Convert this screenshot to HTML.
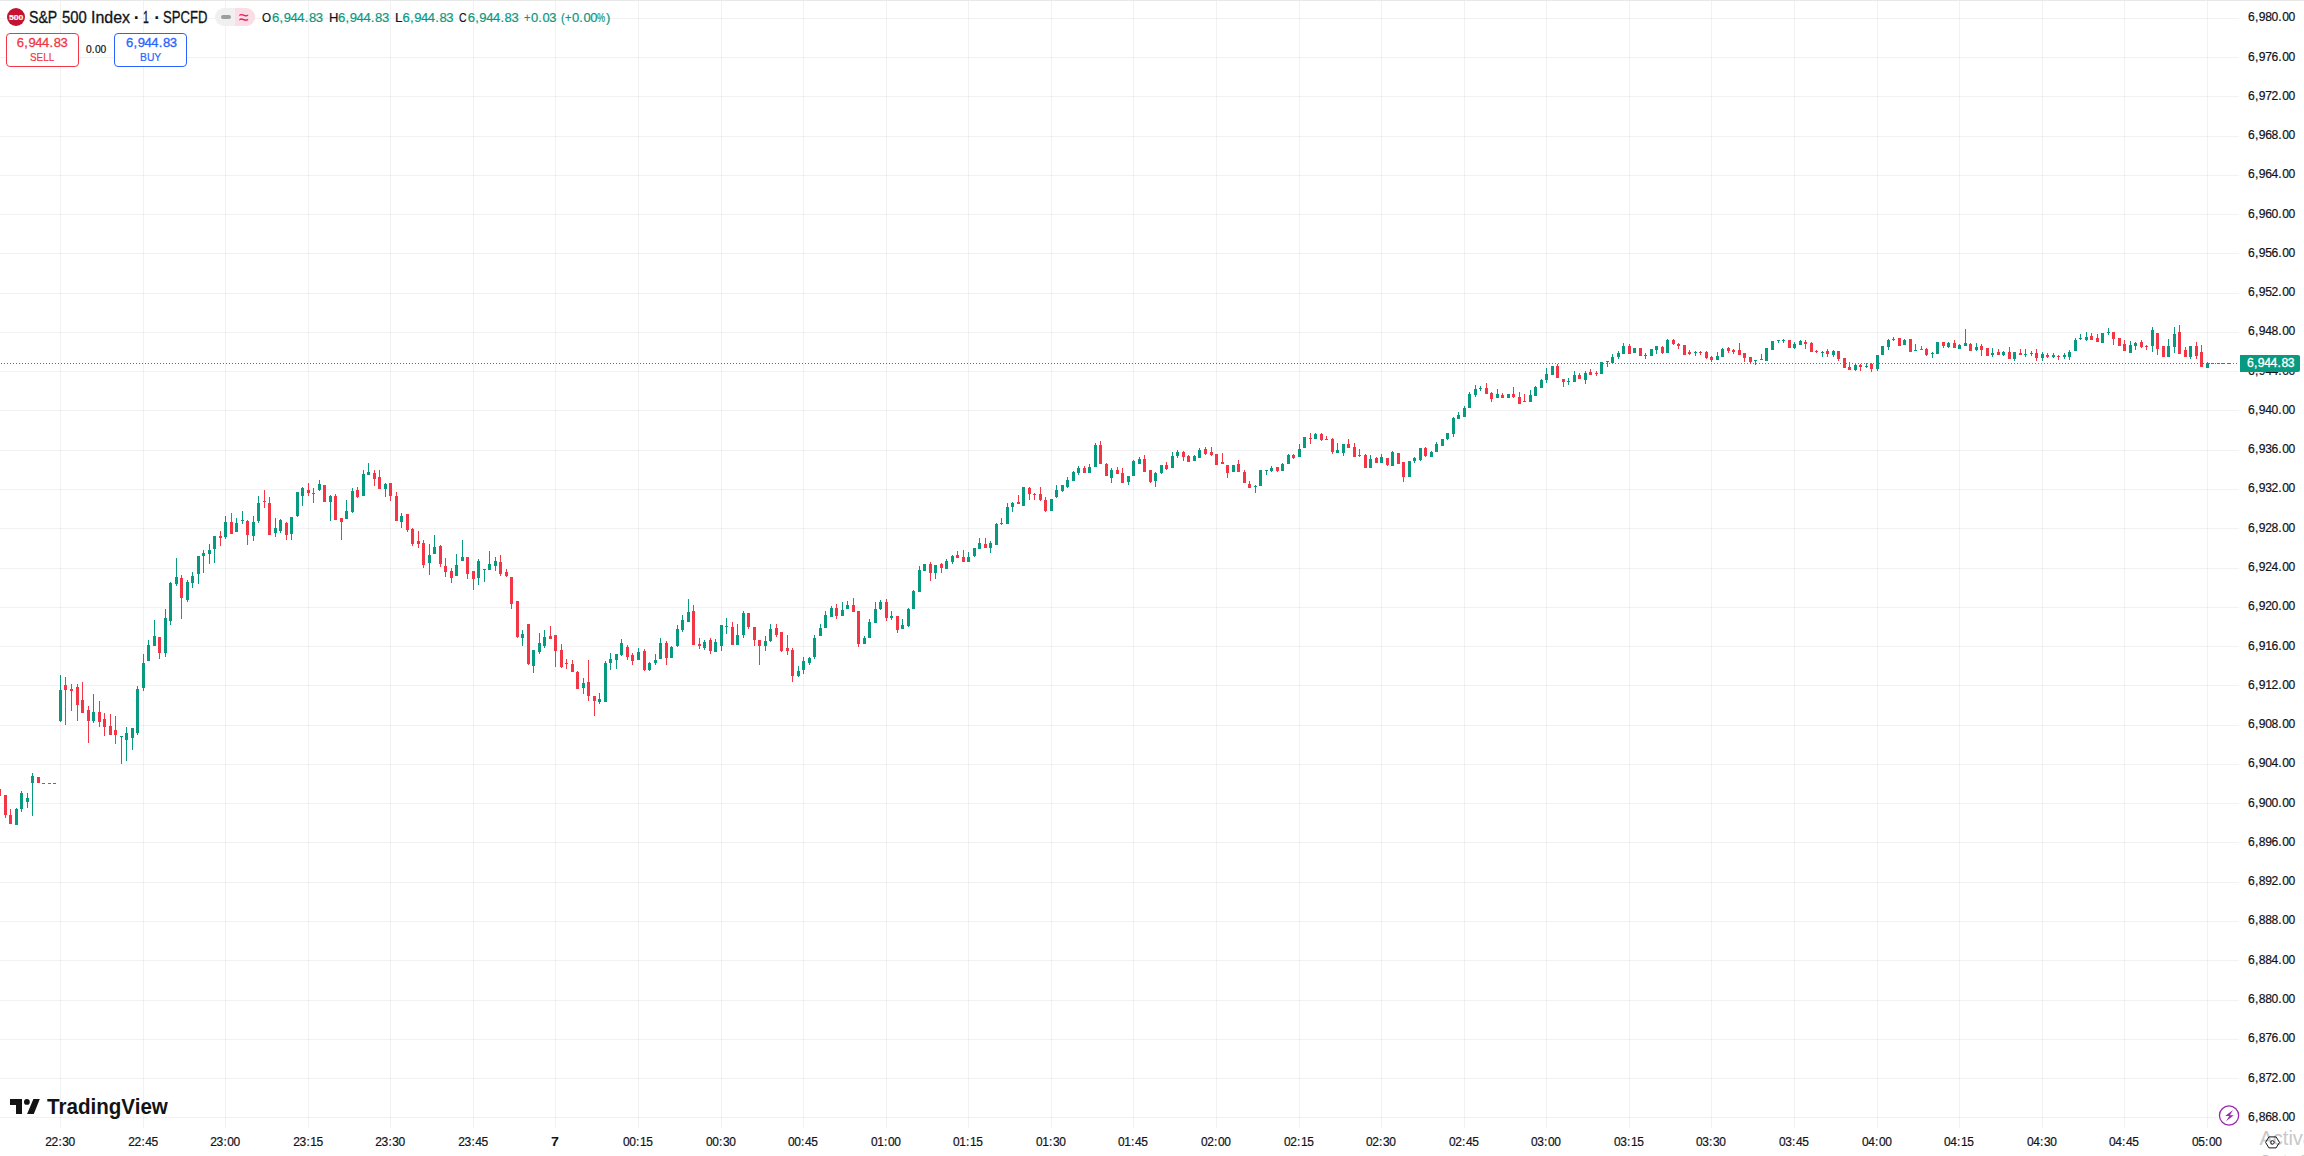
<!DOCTYPE html>
<html lang="en"><head><meta charset="utf-8"><title>S&amp;P 500 Index chart</title>
<style>
html,body{margin:0;padding:0;background:#fff;width:2304px;height:1156px;overflow:hidden}
#page{position:relative;width:2304px;height:1156px;overflow:hidden;background:#fff;font-family:"Liberation Sans",Arial,sans-serif;color:#10131a}
#chart{position:absolute;left:0;top:0}
.t{position:absolute;white-space:nowrap;transform-origin:0 0;display:block}
.n{letter-spacing:-0.0316em}
.n i{font-style:normal;letter-spacing:0;margin:0 0.0445em}
.n b{font-weight:inherit;letter-spacing:0}
.topb{position:absolute;left:0;top:0;width:2304px;height:1px;background:#e8e8e8}
.last{position:absolute;left:2240px;top:355px;width:60px;height:17px;background:#089981;border-radius:0 2px 2px 0}
.ico500{position:absolute;left:7px;top:8px;width:18px;height:18px;border-radius:50%;background:#c4122f}
.pill{position:absolute;left:215px;top:8px;width:40px;height:18px;border-radius:9px;overflow:hidden;background:#f0f0f0}
.pill .r{position:absolute;left:20px;top:0;width:20px;height:18px;background:#fbdde6}
.pill .d{position:absolute;left:6px;top:7px;width:10px;height:4px;border-radius:2px;background:#9e9e9e}
.box{position:absolute;top:33px;width:71px;height:32px;border:1px solid;border-radius:4px;background:#fff}
.sell{left:6px;border-color:#f23645}
.buy{left:114px;border-color:#2962ff}
.cover{position:absolute;left:2218px;top:1104px;width:21px;height:23px;background:#fff}
</style></head><body><div id="page">
<svg id="chart" width="2304" height="1156" viewBox="0 0 2304 1156" shape-rendering="crispEdges">
<path fill="rgba(0,0,0,0.05)" d="M0 18h2239v1H0zM0 57h2239v1H0zM0 96h2239v1H0zM0 136h2239v1H0zM0 175h2239v1H0zM0 214h2239v1H0zM0 253h2239v1H0zM0 293h2239v1H0zM0 332h2239v1H0zM0 371h2239v1H0zM0 410h2239v1H0zM0 450h2239v1H0zM0 489h2239v1H0zM0 528h2239v1H0zM0 568h2239v1H0zM0 607h2239v1H0zM0 646h2239v1H0zM0 685h2239v1H0zM0 725h2239v1H0zM0 764h2239v1H0zM0 803h2239v1H0zM0 842h2239v1H0zM0 882h2239v1H0zM0 921h2239v1H0zM0 960h2239v1H0zM0 1000h2239v1H0zM0 1039h2239v1H0zM0 1078h2239v1H0zM0 1117h2239v1H0z"/>
<path fill="rgba(0,0,0,0.05)" d="M60 1h1v1127h-1zM143 1h1v1127h-1zM225 1h1v1127h-1zM308 1h1v1127h-1zM390 1h1v1127h-1zM473 1h1v1127h-1zM555 1h1v1127h-1zM638 1h1v1127h-1zM721 1h1v1127h-1zM803 1h1v1127h-1zM886 1h1v1127h-1zM968 1h1v1127h-1zM1051 1h1v1127h-1zM1133 1h1v1127h-1zM1216 1h1v1127h-1zM1299 1h1v1127h-1zM1381 1h1v1127h-1zM1464 1h1v1127h-1zM1546 1h1v1127h-1zM1629 1h1v1127h-1zM1711 1h1v1127h-1zM1794 1h1v1127h-1zM1877 1h1v1127h-1zM1959 1h1v1127h-1zM2042 1h1v1127h-1zM2124 1h1v1127h-1zM2207 1h1v1127h-1z"/>
<path fill="#089981" d="M16 808h1v1h-1zM15 809h3v16h-3zM21 791h1v2h-1zM21 809h1v3h-1zM20 793h3v16h-3zM27 793h1v5h-1zM27 802h1v6h-1zM26 798h3v4h-3zM32 773h1v3h-1zM32 783h1v33h-1zM31 776h3v7h-3zM42 783h3v1h-3zM53 783h3v1h-3zM60 675h1v15h-1zM60 721h1v1h-1zM59 690h3v31h-3zM93 694h1v18h-1zM93 721h1v2h-1zM92 712h3v9h-3zM121 737h1v27h-1zM120 736h3v1h-3zM126 727h1v6h-1zM126 740h1v21h-1zM125 733h3v7h-3zM132 738h1v12h-1zM131 728h3v10h-3zM137 686h1v3h-1zM137 733h1v2h-1zM136 689h3v44h-3zM143 654h1v9h-1zM143 688h1v3h-1zM142 663h3v25h-3zM148 640h1v5h-1zM147 645h3v16h-3zM154 620h1v16h-1zM153 636h3v10h-3zM165 609h1v9h-1zM165 653h1v4h-1zM164 618h3v35h-3zM170 582h1v1h-1zM170 621h1v4h-1zM169 583h3v38h-3zM176 558h1v19h-1zM176 584h1v2h-1zM175 577h3v7h-3zM187 580h1v2h-1zM187 600h1v2h-1zM186 582h3v18h-3zM192 572h1v4h-1zM192 583h1v5h-1zM191 576h3v7h-3zM198 574h1v10h-1zM197 556h3v18h-3zM203 550h1v3h-1zM203 556h1v17h-1zM202 553h3v3h-3zM209 544h1v6h-1zM209 554h1v10h-1zM208 550h3v4h-3zM214 549h1v14h-1zM213 536h3v13h-3zM225 516h1v6h-1zM225 537h1v2h-1zM224 522h3v15h-3zM236 518h1v5h-1zM235 523h3v9h-3zM242 511h1v9h-1zM242 521h1v3h-1zM241 520h3v1h-3zM253 516h1v6h-1zM253 536h1v5h-1zM252 522h3v14h-3zM258 496h1v7h-1zM258 521h1v2h-1zM257 503h3v18h-3zM275 518h1v10h-1zM275 533h1v4h-1zM274 528h3v5h-3zM280 519h1v1h-1zM280 531h1v2h-1zM279 520h3v11h-3zM291 534h1v6h-1zM290 517h3v17h-3zM297 516h1v1h-1zM296 492h3v24h-3zM302 487h1v1h-1zM302 496h1v10h-1zM301 488h3v8h-3zM319 480h1v4h-1zM319 490h1v1h-1zM318 484h3v6h-3zM330 495h1v1h-1zM330 502h1v19h-1zM329 496h3v6h-3zM346 500h1v11h-1zM345 511h3v8h-3zM352 488h1v3h-1zM352 512h1v1h-1zM351 491h3v21h-3zM363 470h1v4h-1zM362 474h3v22h-3zM368 463h1v9h-1zM367 472h3v3h-3zM385 483h1v1h-1zM385 489h1v8h-1zM384 484h3v5h-3zM401 513h1v3h-1zM401 522h1v6h-1zM400 516h3v6h-3zM429 544h1v11h-1zM429 563h1v12h-1zM428 555h3v8h-3zM434 535h1v12h-1zM433 547h3v7h-3zM456 554h1v11h-1zM455 565h3v11h-3zM462 540h1v17h-1zM461 557h3v4h-3zM478 559h1v2h-1zM478 578h1v7h-1zM477 561h3v17h-3zM484 570h1v12h-1zM483 569h3v1h-3zM489 551h1v13h-1zM488 564h3v6h-3zM495 557h1v4h-1zM495 566h1v5h-1zM494 561h3v5h-3zM522 630h1v4h-1zM522 638h1v8h-1zM521 634h3v4h-3zM533 666h1v7h-1zM532 650h3v16h-3zM539 633h1v10h-1zM539 652h1v2h-1zM538 643h3v9h-3zM544 630h1v7h-1zM544 646h1v2h-1zM543 637h3v9h-3zM583 678h1v5h-1zM583 688h1v6h-1zM582 683h3v5h-3zM599 693h1v6h-1zM599 702h1v2h-1zM598 699h3v3h-3zM605 661h1v2h-1zM604 663h3v39h-3zM610 653h1v6h-1zM610 663h1v7h-1zM609 659h3v4h-3zM616 660h1v9h-1zM615 654h3v6h-3zM621 639h1v4h-1zM621 655h1v1h-1zM620 643h3v12h-3zM638 648h1v4h-1zM637 652h3v8h-3zM649 662h1v1h-1zM649 670h1v1h-1zM648 663h3v7h-3zM655 654h1v6h-1zM655 663h1v2h-1zM654 660h3v3h-3zM660 638h1v5h-1zM659 643h3v16h-3zM671 646h1v1h-1zM670 647h3v11h-3zM677 625h1v4h-1zM677 646h1v1h-1zM676 629h3v17h-3zM682 615h1v5h-1zM682 630h1v2h-1zM681 620h3v10h-3zM688 599h1v13h-1zM687 612h3v10h-3zM704 640h1v2h-1zM704 648h1v2h-1zM703 642h3v6h-3zM715 639h1v3h-1zM714 642h3v10h-3zM721 646h1v5h-1zM720 625h3v21h-3zM726 618h1v8h-1zM726 627h1v7h-1zM725 626h3v1h-3zM737 624h1v11h-1zM736 635h3v10h-3zM743 611h1v2h-1zM743 635h1v3h-1zM742 613h3v22h-3zM765 636h1v5h-1zM765 646h1v5h-1zM764 641h3v5h-3zM770 624h1v5h-1zM770 641h1v1h-1zM769 629h3v12h-3zM798 666h1v5h-1zM798 676h1v1h-1zM797 671h3v5h-3zM803 657h1v4h-1zM803 670h1v4h-1zM802 661h3v9h-3zM809 657h1v1h-1zM809 663h1v2h-1zM808 658h3v5h-3zM814 635h1v3h-1zM814 657h1v2h-1zM813 638h3v19h-3zM820 624h1v4h-1zM819 628h3v8h-3zM825 611h1v4h-1zM824 615h3v13h-3zM831 606h1v2h-1zM830 608h3v9h-3zM842 602h1v8h-1zM841 610h3v6h-3zM847 601h1v4h-1zM846 605h3v4h-3zM864 636h1v2h-1zM863 638h3v6h-3zM869 619h1v3h-1zM868 622h3v16h-3zM875 602h1v7h-1zM874 609h3v14h-3zM880 600h1v2h-1zM880 609h1v1h-1zM879 602h3v7h-3zM891 611h1v5h-1zM891 618h1v2h-1zM890 616h3v2h-3zM902 619h1v6h-1zM901 625h3v4h-3zM908 608h1v1h-1zM908 626h1v1h-1zM907 609h3v17h-3zM913 590h1v1h-1zM912 591h3v18h-3zM919 566h1v4h-1zM918 570h3v22h-3zM923 564h3v7h-3zM935 573h1v6h-1zM934 565h3v8h-3zM946 559h1v2h-1zM945 561h3v8h-3zM952 555h1v1h-1zM952 562h1v2h-1zM951 556h3v6h-3zM968 552h1v5h-1zM967 557h3v5h-3zM974 556h1v1h-1zM973 548h3v8h-3zM979 538h1v5h-1zM978 543h3v6h-3zM990 541h1v2h-1zM990 548h1v5h-1zM989 543h3v5h-3zM996 523h1v1h-1zM995 524h3v21h-3zM1001 518h1v5h-1zM1001 524h1v1h-1zM1000 523h3v1h-3zM1007 503h1v4h-1zM1006 507h3v17h-3zM1012 502h1v1h-1zM1012 507h1v5h-1zM1011 503h3v4h-3zM1022 487h3v19h-3zM1050 499h3v12h-3zM1056 485h1v5h-1zM1056 497h1v1h-1zM1055 490h3v7h-3zM1062 491h1v1h-1zM1061 485h3v6h-3zM1067 477h1v3h-1zM1067 487h1v1h-1zM1066 480h3v7h-3zM1073 471h1v1h-1zM1072 472h3v9h-3zM1078 466h1v2h-1zM1078 473h1v2h-1zM1077 468h3v5h-3zM1089 464h1v3h-1zM1088 467h3v6h-3zM1095 443h1v2h-1zM1094 445h3v22h-3zM1111 468h1v2h-1zM1111 478h1v5h-1zM1110 470h3v8h-3zM1128 482h1v3h-1zM1127 476h3v6h-3zM1133 460h1v1h-1zM1132 461h3v15h-3zM1139 457h1v2h-1zM1138 459h3v5h-3zM1155 472h1v1h-1zM1155 481h1v6h-1zM1154 473h3v8h-3zM1161 473h1v1h-1zM1160 465h3v8h-3zM1172 452h1v4h-1zM1171 456h3v12h-3zM1177 450h1v2h-1zM1177 456h1v2h-1zM1176 452h3v4h-3zM1194 455h1v1h-1zM1193 456h3v5h-3zM1199 448h1v2h-1zM1198 450h3v8h-3zM1232 465h3v7h-3zM1255 485h1v1h-1zM1255 487h1v6h-1zM1254 486h3v1h-3zM1259 470h3v16h-3zM1266 471h1v4h-1zM1265 470h3v1h-3zM1271 466h1v2h-1zM1271 471h1v1h-1zM1270 468h3v3h-3zM1282 463h1v1h-1zM1281 464h3v7h-3zM1288 454h1v1h-1zM1287 455h3v9h-3zM1299 444h1v5h-1zM1298 449h3v8h-3zM1303 437h3v11h-3zM1315 433h1v1h-1zM1314 434h3v5h-3zM1337 443h1v7h-1zM1336 450h3v3h-3zM1343 453h1v3h-1zM1342 444h3v9h-3zM1370 455h1v4h-1zM1369 459h3v9h-3zM1381 454h1v3h-1zM1380 457h3v6h-3zM1392 451h1v1h-1zM1391 452h3v14h-3zM1408 461h3v16h-3zM1414 457h1v1h-1zM1414 461h1v2h-1zM1413 458h3v3h-3zM1420 460h1v1h-1zM1419 448h3v12h-3zM1431 451h1v1h-1zM1430 452h3v5h-3zM1436 442h1v2h-1zM1435 444h3v8h-3zM1441 439h3v7h-3zM1447 439h1v1h-1zM1446 433h3v6h-3zM1453 417h1v1h-1zM1453 434h1v3h-1zM1452 418h3v16h-3zM1458 412h1v3h-1zM1457 415h3v4h-3zM1464 406h1v2h-1zM1463 408h3v9h-3zM1469 392h1v2h-1zM1468 394h3v14h-3zM1475 385h1v4h-1zM1475 395h1v2h-1zM1474 389h3v6h-3zM1480 386h1v2h-1zM1480 389h1v2h-1zM1479 388h3v1h-3zM1497 389h1v5h-1zM1496 394h3v4h-3zM1507 394h3v4h-3zM1530 390h1v5h-1zM1529 395h3v7h-3zM1535 386h1v1h-1zM1534 387h3v9h-3zM1541 379h1v1h-1zM1540 380h3v8h-3zM1546 368h1v6h-1zM1546 380h1v3h-1zM1545 374h3v6h-3zM1551 366h3v9h-3zM1568 378h1v3h-1zM1568 382h1v3h-1zM1567 381h3v1h-3zM1574 371h1v4h-1zM1573 375h3v7h-3zM1585 371h1v2h-1zM1585 380h1v4h-1zM1584 373h3v7h-3zM1600 362h3v12h-3zM1607 362h1v5h-1zM1606 361h3v1h-3zM1612 354h1v3h-1zM1612 363h1v1h-1zM1611 357h3v6h-3zM1618 351h1v2h-1zM1618 357h1v2h-1zM1617 353h3v4h-3zM1623 343h1v3h-1zM1622 346h3v8h-3zM1633 348h3v5h-3zM1645 353h1v2h-1zM1645 356h1v3h-1zM1644 355h3v1h-3zM1650 349h3v7h-3zM1656 350h1v4h-1zM1655 346h3v4h-3zM1667 339h1v1h-1zM1666 340h3v13h-3zM1695 351h1v1h-1zM1695 353h1v3h-1zM1694 352h3v1h-3zM1717 352h1v4h-1zM1716 356h3v4h-3zM1722 348h1v1h-1zM1721 349h3v8h-3zM1755 361h1v4h-1zM1754 360h3v1h-3zM1761 354h1v5h-1zM1760 359h3v1h-3zM1765 348h3v13h-3zM1771 341h3v9h-3zM1778 341h1v2h-1zM1777 340h3v1h-3zM1783 339h1v1h-1zM1783 341h1v2h-1zM1782 340h3v1h-3zM1794 342h1v2h-1zM1794 348h1v1h-1zM1793 344h3v4h-3zM1800 340h1v1h-1zM1799 341h3v4h-3zM1822 351h1v1h-1zM1822 353h1v4h-1zM1821 352h3v1h-3zM1833 350h1v1h-1zM1833 355h1v2h-1zM1832 351h3v4h-3zM1855 363h1v2h-1zM1855 370h1v1h-1zM1854 365h3v5h-3zM1866 363h1v3h-1zM1866 367h1v1h-1zM1865 366h3v1h-3zM1877 369h1v2h-1zM1876 355h3v14h-3zM1881 346h3v9h-3zM1888 339h1v1h-1zM1888 347h1v3h-1zM1887 340h3v7h-3zM1893 337h1v2h-1zM1893 340h1v1h-1zM1892 339h3v1h-3zM1904 339h1v1h-1zM1903 340h3v5h-3zM1915 344h1v6h-1zM1914 350h3v1h-3zM1932 352h1v1h-1zM1932 354h1v4h-1zM1931 353h3v1h-3zM1936 342h3v12h-3zM1948 342h1v1h-1zM1948 347h1v1h-1zM1947 343h3v4h-3zM1959 344h1v1h-1zM1958 345h3v4h-3zM1965 329h1v14h-1zM1964 343h3v3h-3zM1976 343h1v4h-1zM1976 350h1v1h-1zM1975 347h3v3h-3zM1992 348h1v5h-1zM1992 355h1v2h-1zM1991 353h3v2h-3zM2003 351h1v1h-1zM2003 355h1v1h-1zM2002 352h3v3h-3zM2014 359h1v2h-1zM2013 352h3v7h-3zM2025 349h1v5h-1zM2025 355h1v2h-1zM2024 354h3v1h-3zM2031 351h1v2h-1zM2031 354h1v2h-1zM2030 353h3v1h-3zM2042 352h1v2h-1zM2042 358h1v3h-1zM2041 354h3v4h-3zM2053 353h1v2h-1zM2053 357h1v1h-1zM2052 355h3v2h-3zM2064 353h1v2h-1zM2064 357h1v2h-1zM2063 355h3v2h-3zM2069 350h1v2h-1zM2069 357h1v3h-1zM2068 352h3v5h-3zM2075 338h1v2h-1zM2074 340h3v11h-3zM2080 334h1v4h-1zM2080 339h1v1h-1zM2079 338h3v1h-3zM2086 332h1v5h-1zM2086 340h1v1h-1zM2085 337h3v3h-3zM2101 333h3v10h-3zM2108 328h1v4h-1zM2108 333h1v2h-1zM2107 332h3v1h-3zM2130 341h1v4h-1zM2129 345h3v8h-3zM2135 342h1v1h-1zM2135 346h1v4h-1zM2134 343h3v3h-3zM2152 327h1v3h-1zM2152 346h1v6h-1zM2151 330h3v16h-3zM2168 339h1v7h-1zM2167 346h3v11h-3zM2174 327h1v7h-1zM2174 347h1v6h-1zM2173 334h3v13h-3zM2190 357h1v2h-1zM2189 346h3v11h-3zM2207 362h1v1h-1zM2206 363h3v5h-3z"/>
<path fill="#f23645" d="M0 789h1v7h-1zM5 815h1v3h-1zM4 795h3v20h-3zM10 809h1v6h-1zM9 815h3v9h-3zM37 777h3v6h-3zM48 783h3v1h-3zM65 677h1v8h-1zM65 690h1v35h-1zM64 685h3v5h-3zM71 684h1v5h-1zM71 691h1v20h-1zM70 689h3v2h-3zM77 684h1v3h-1zM77 705h1v16h-1zM76 687h3v18h-3zM82 682h1v18h-1zM81 700h3v13h-3zM88 706h1v4h-1zM88 721h1v22h-1zM87 710h3v11h-3zM99 701h1v11h-1zM99 722h1v5h-1zM98 712h3v10h-3zM104 713h1v6h-1zM104 727h1v9h-1zM103 719h3v8h-3zM110 714h1v12h-1zM109 726h3v9h-3zM115 716h1v14h-1zM115 735h1v9h-1zM114 730h3v5h-3zM159 653h1v6h-1zM158 637h3v16h-3zM181 575h1v3h-1zM181 598h1v21h-1zM180 578h3v20h-3zM220 531h1v5h-1zM220 538h1v8h-1zM219 536h3v2h-3zM231 513h1v9h-1zM230 522h3v12h-3zM247 520h1v1h-1zM247 535h1v10h-1zM246 521h3v14h-3zM264 490h1v11h-1zM264 502h1v6h-1zM263 501h3v1h-3zM269 497h1v6h-1zM268 503h3v32h-3zM286 522h1v1h-1zM286 535h1v5h-1zM285 523h3v12h-3zM308 483h1v7h-1zM308 493h1v3h-1zM307 490h3v3h-3zM313 488h1v5h-1zM313 494h1v9h-1zM312 493h3v1h-3zM323 485h3v17h-3zM335 494h1v2h-1zM334 496h3v24h-3zM341 522h1v18h-1zM340 518h3v4h-3zM357 487h1v3h-1zM357 497h1v1h-1zM356 490h3v7h-3zM374 470h1v3h-1zM374 479h1v7h-1zM373 473h3v6h-3zM379 470h1v7h-1zM378 477h3v12h-3zM390 496h1v5h-1zM389 483h3v13h-3zM396 492h1v4h-1zM395 496h3v25h-3zM407 530h1v2h-1zM406 514h3v16h-3zM412 528h1v1h-1zM412 544h1v2h-1zM411 529h3v15h-3zM418 531h1v10h-1zM418 544h1v4h-1zM417 541h3v3h-3zM423 540h1v3h-1zM423 565h1v3h-1zM422 543h3v22h-3zM440 545h1v1h-1zM440 564h1v3h-1zM439 546h3v18h-3zM445 558h1v8h-1zM445 572h1v5h-1zM444 566h3v6h-3zM451 568h1v3h-1zM451 578h1v5h-1zM450 571h3v7h-3zM467 574h1v5h-1zM466 557h3v17h-3zM473 579h1v11h-1zM472 571h3v8h-3zM500 555h1v7h-1zM500 574h1v2h-1zM499 562h3v12h-3zM506 569h1v3h-1zM506 576h1v1h-1zM505 572h3v4h-3zM511 604h1v5h-1zM510 577h3v27h-3zM517 637h1v1h-1zM516 601h3v36h-3zM528 664h1v1h-1zM527 624h3v40h-3zM550 626h1v10h-1zM549 636h3v3h-3zM555 651h1v16h-1zM554 635h3v16h-3zM561 644h1v6h-1zM561 667h1v1h-1zM560 650h3v17h-3zM566 659h1v4h-1zM566 664h1v5h-1zM565 663h3v1h-3zM572 660h1v4h-1zM571 664h3v8h-3zM577 671h1v1h-1zM576 672h3v17h-3zM588 660h1v22h-1zM588 696h1v5h-1zM587 682h3v14h-3zM594 701h1v15h-1zM593 696h3v5h-3zM627 645h1v2h-1zM627 657h1v3h-1zM626 647h3v10h-3zM632 653h1v2h-1zM632 661h1v4h-1zM631 655h3v6h-3zM644 649h1v2h-1zM644 670h1v1h-1zM643 651h3v19h-3zM666 641h1v2h-1zM666 658h1v7h-1zM665 643h3v15h-3zM693 605h1v6h-1zM692 611h3v34h-3zM699 638h1v6h-1zM699 646h1v3h-1zM698 644h3v2h-3zM710 638h1v2h-1zM710 651h1v3h-1zM709 640h3v11h-3zM732 622h1v5h-1zM731 627h3v18h-3zM748 627h1v2h-1zM747 613h3v14h-3zM754 640h1v6h-1zM753 627h3v13h-3zM759 646h1v19h-1zM758 640h3v6h-3zM776 624h1v4h-1zM776 635h1v2h-1zM775 628h3v7h-3zM781 651h1v1h-1zM780 632h3v19h-3zM787 635h1v13h-1zM787 651h1v4h-1zM786 648h3v3h-3zM792 648h1v2h-1zM792 676h1v6h-1zM791 650h3v26h-3zM836 604h1v4h-1zM836 616h1v3h-1zM835 608h3v8h-3zM853 598h1v7h-1zM852 605h3v7h-3zM858 644h1v3h-1zM857 611h3v33h-3zM886 599h1v3h-1zM886 618h1v3h-1zM885 602h3v16h-3zM897 630h1v3h-1zM896 616h3v14h-3zM930 562h1v2h-1zM930 573h1v8h-1zM929 564h3v9h-3zM941 563h1v1h-1zM941 568h1v5h-1zM940 564h3v4h-3zM957 551h1v4h-1zM956 555h3v3h-3zM963 550h1v7h-1zM962 557h3v5h-3zM985 538h1v6h-1zM984 544h3v4h-3zM1018 495h1v7h-1zM1017 502h3v2h-3zM1029 487h1v1h-1zM1029 494h1v6h-1zM1028 488h3v6h-3zM1034 493h1v1h-1zM1034 495h1v5h-1zM1033 494h3v1h-3zM1040 487h1v7h-1zM1040 500h1v1h-1zM1039 494h3v6h-3zM1045 497h1v3h-1zM1045 511h1v1h-1zM1044 500h3v11h-3zM1084 466h1v2h-1zM1083 468h3v5h-3zM1100 441h1v4h-1zM1099 445h3v19h-3zM1106 463h1v1h-1zM1105 464h3v12h-3zM1117 467h1v3h-1zM1116 470h3v4h-3zM1122 468h1v5h-1zM1121 473h3v10h-3zM1144 455h1v4h-1zM1143 459h3v13h-3zM1150 482h1v1h-1zM1149 470h3v12h-3zM1166 462h1v3h-1zM1166 469h1v1h-1zM1165 465h3v4h-3zM1183 451h1v1h-1zM1183 457h1v4h-1zM1182 452h3v5h-3zM1188 455h1v1h-1zM1187 456h3v6h-3zM1205 447h1v2h-1zM1205 454h1v1h-1zM1204 449h3v5h-3zM1211 447h1v5h-1zM1211 455h1v1h-1zM1210 452h3v3h-3zM1215 454h3v11h-3zM1222 453h1v9h-1zM1221 462h3v2h-3zM1227 473h1v5h-1zM1226 465h3v8h-3zM1238 460h1v4h-1zM1237 464h3v8h-3zM1244 470h1v2h-1zM1243 472h3v11h-3zM1249 481h1v3h-1zM1248 484h3v4h-3zM1277 471h1v1h-1zM1276 467h3v4h-3zM1293 454h1v1h-1zM1293 458h1v1h-1zM1292 455h3v3h-3zM1310 433h1v5h-1zM1310 439h1v5h-1zM1309 438h3v1h-3zM1321 433h1v1h-1zM1321 440h1v1h-1zM1320 434h3v6h-3zM1326 436h1v3h-1zM1325 439h3v1h-3zM1332 438h1v1h-1zM1332 452h1v2h-1zM1331 439h3v13h-3zM1348 439h1v5h-1zM1347 444h3v4h-3zM1354 443h1v4h-1zM1353 447h3v10h-3zM1359 449h1v6h-1zM1359 456h1v1h-1zM1358 455h3v1h-3zM1365 454h1v1h-1zM1364 455h3v13h-3zM1376 457h1v1h-1zM1375 458h3v5h-3zM1387 465h1v1h-1zM1386 458h3v7h-3zM1397 453h3v11h-3zM1403 477h1v5h-1zM1402 462h3v15h-3zM1425 447h1v1h-1zM1425 456h1v1h-1zM1424 448h3v8h-3zM1486 383h1v5h-1zM1485 388h3v6h-3zM1491 392h1v1h-1zM1491 399h1v3h-1zM1490 393h3v6h-3zM1502 393h1v2h-1zM1501 395h3v3h-3zM1513 387h1v7h-1zM1513 397h1v1h-1zM1512 394h3v3h-3zM1519 392h1v5h-1zM1518 397h3v7h-3zM1524 394h1v7h-1zM1523 401h3v1h-3zM1557 364h1v2h-1zM1556 366h3v12h-3zM1563 382h1v5h-1zM1562 379h3v3h-3zM1579 373h1v2h-1zM1578 375h3v4h-3zM1590 369h1v3h-1zM1589 372h3v3h-3zM1596 371h1v2h-1zM1596 374h1v2h-1zM1595 373h3v1h-3zM1629 344h1v2h-1zM1628 346h3v8h-3zM1639 348h3v8h-3zM1662 346h1v1h-1zM1662 353h1v1h-1zM1661 347h3v6h-3zM1673 339h1v1h-1zM1673 344h1v1h-1zM1672 340h3v4h-3zM1678 343h1v1h-1zM1678 346h1v3h-1zM1677 344h3v2h-3zM1683 345h3v10h-3zM1689 350h1v2h-1zM1689 354h1v1h-1zM1688 352h3v2h-3zM1700 351h1v1h-1zM1700 353h1v2h-1zM1699 352h3v1h-3zM1706 351h1v1h-1zM1706 358h1v1h-1zM1705 352h3v6h-3zM1711 356h1v1h-1zM1711 360h1v2h-1zM1710 357h3v3h-3zM1728 347h1v1h-1zM1728 351h1v2h-1zM1727 348h3v3h-3zM1733 349h1v1h-1zM1733 352h1v2h-1zM1732 350h3v2h-3zM1739 343h1v7h-1zM1738 350h3v5h-3zM1744 358h1v4h-1zM1743 353h3v5h-3zM1750 362h1v1h-1zM1749 357h3v5h-3zM1788 340h3v8h-3zM1805 340h1v2h-1zM1805 344h1v5h-1zM1804 342h3v2h-3zM1811 342h1v1h-1zM1810 343h3v9h-3zM1816 350h1v1h-1zM1816 352h1v1h-1zM1815 351h3v1h-3zM1827 349h1v2h-1zM1827 354h1v3h-1zM1826 351h3v3h-3zM1838 359h1v2h-1zM1837 351h3v8h-3zM1843 358h3v10h-3zM1849 362h1v5h-1zM1848 367h3v3h-3zM1860 364h1v1h-1zM1860 367h1v4h-1zM1859 365h3v2h-3zM1871 363h1v1h-1zM1871 369h1v3h-1zM1870 364h3v5h-3zM1898 338h3v8h-3zM1909 339h3v13h-3zM1921 346h1v3h-1zM1920 349h3v1h-3zM1926 348h1v1h-1zM1926 355h1v1h-1zM1925 349h3v6h-3zM1943 346h1v2h-1zM1942 342h3v4h-3zM1954 340h1v3h-1zM1953 343h3v5h-3zM1970 343h1v1h-1zM1969 344h3v7h-3zM1981 344h1v2h-1zM1981 350h1v6h-1zM1980 346h3v4h-3zM1986 348h3v8h-3zM1998 349h1v3h-1zM1997 352h3v3h-3zM2009 347h1v5h-1zM2008 352h3v7h-3zM2020 349h1v4h-1zM2019 353h3v2h-3zM2036 349h1v4h-1zM2036 358h1v3h-1zM2035 353h3v5h-3zM2047 353h1v2h-1zM2047 357h1v1h-1zM2046 355h3v2h-3zM2058 355h1v1h-1zM2058 357h1v3h-1zM2057 356h3v1h-3zM2091 333h1v3h-1zM2090 336h3v4h-3zM2097 334h1v4h-1zM2096 338h3v4h-3zM2113 339h1v6h-1zM2112 332h3v7h-3zM2118 338h3v8h-3zM2124 340h1v4h-1zM2123 344h3v7h-3zM2141 340h1v2h-1zM2141 347h1v1h-1zM2140 342h3v5h-3zM2146 345h1v1h-1zM2146 347h1v3h-1zM2145 346h3v1h-3zM2157 349h1v6h-1zM2156 333h3v16h-3zM2162 346h3v11h-3zM2179 325h1v7h-1zM2178 332h3v22h-3zM2185 347h1v3h-1zM2184 350h3v7h-3zM2196 342h1v4h-1zM2196 356h1v3h-1zM2195 346h3v10h-3zM2201 345h1v7h-1zM2200 352h3v15h-3z"/>
<path fill="#089981" d="M1 363h1v1h-1zM4 363h1v1h-1zM7 363h1v1h-1zM10 363h1v1h-1zM13 363h1v1h-1zM16 363h1v1h-1zM19 363h1v1h-1zM22 363h1v1h-1zM25 363h1v1h-1zM28 363h1v1h-1zM31 363h1v1h-1zM34 363h1v1h-1zM37 363h1v1h-1zM40 363h1v1h-1zM43 363h1v1h-1zM46 363h1v1h-1zM49 363h1v1h-1zM52 363h1v1h-1zM55 363h1v1h-1zM58 363h1v1h-1zM61 363h1v1h-1zM64 363h1v1h-1zM67 363h1v1h-1zM70 363h1v1h-1zM73 363h1v1h-1zM76 363h1v1h-1zM79 363h1v1h-1zM82 363h1v1h-1zM85 363h1v1h-1zM88 363h1v1h-1zM91 363h1v1h-1zM94 363h1v1h-1zM97 363h1v1h-1zM100 363h1v1h-1zM103 363h1v1h-1zM106 363h1v1h-1zM109 363h1v1h-1zM112 363h1v1h-1zM115 363h1v1h-1zM118 363h1v1h-1zM121 363h1v1h-1zM124 363h1v1h-1zM127 363h1v1h-1zM130 363h1v1h-1zM133 363h1v1h-1zM136 363h1v1h-1zM139 363h1v1h-1zM142 363h1v1h-1zM145 363h1v1h-1zM148 363h1v1h-1zM151 363h1v1h-1zM154 363h1v1h-1zM157 363h1v1h-1zM160 363h1v1h-1zM163 363h1v1h-1zM166 363h1v1h-1zM169 363h1v1h-1zM172 363h1v1h-1zM175 363h1v1h-1zM178 363h1v1h-1zM181 363h1v1h-1zM184 363h1v1h-1zM187 363h1v1h-1zM190 363h1v1h-1zM193 363h1v1h-1zM196 363h1v1h-1zM199 363h1v1h-1zM202 363h1v1h-1zM205 363h1v1h-1zM208 363h1v1h-1zM211 363h1v1h-1zM214 363h1v1h-1zM217 363h1v1h-1zM220 363h1v1h-1zM223 363h1v1h-1zM226 363h1v1h-1zM229 363h1v1h-1zM232 363h1v1h-1zM235 363h1v1h-1zM238 363h1v1h-1zM241 363h1v1h-1zM244 363h1v1h-1zM247 363h1v1h-1zM250 363h1v1h-1zM253 363h1v1h-1zM256 363h1v1h-1zM259 363h1v1h-1zM262 363h1v1h-1zM265 363h1v1h-1zM268 363h1v1h-1zM271 363h1v1h-1zM274 363h1v1h-1zM277 363h1v1h-1zM280 363h1v1h-1zM283 363h1v1h-1zM286 363h1v1h-1zM289 363h1v1h-1zM292 363h1v1h-1zM295 363h1v1h-1zM298 363h1v1h-1zM301 363h1v1h-1zM304 363h1v1h-1zM307 363h1v1h-1zM310 363h1v1h-1zM313 363h1v1h-1zM316 363h1v1h-1zM319 363h1v1h-1zM322 363h1v1h-1zM325 363h1v1h-1zM328 363h1v1h-1zM331 363h1v1h-1zM334 363h1v1h-1zM337 363h1v1h-1zM340 363h1v1h-1zM343 363h1v1h-1zM346 363h1v1h-1zM349 363h1v1h-1zM352 363h1v1h-1zM355 363h1v1h-1zM358 363h1v1h-1zM361 363h1v1h-1zM364 363h1v1h-1zM367 363h1v1h-1zM370 363h1v1h-1zM373 363h1v1h-1zM376 363h1v1h-1zM379 363h1v1h-1zM382 363h1v1h-1zM385 363h1v1h-1zM388 363h1v1h-1zM391 363h1v1h-1zM394 363h1v1h-1zM397 363h1v1h-1zM400 363h1v1h-1zM403 363h1v1h-1zM406 363h1v1h-1zM409 363h1v1h-1zM412 363h1v1h-1zM415 363h1v1h-1zM418 363h1v1h-1zM421 363h1v1h-1zM424 363h1v1h-1zM427 363h1v1h-1zM430 363h1v1h-1zM433 363h1v1h-1zM436 363h1v1h-1zM439 363h1v1h-1zM442 363h1v1h-1zM445 363h1v1h-1zM448 363h1v1h-1zM451 363h1v1h-1zM454 363h1v1h-1zM457 363h1v1h-1zM460 363h1v1h-1zM463 363h1v1h-1zM466 363h1v1h-1zM469 363h1v1h-1zM472 363h1v1h-1zM475 363h1v1h-1zM478 363h1v1h-1zM481 363h1v1h-1zM484 363h1v1h-1zM487 363h1v1h-1zM490 363h1v1h-1zM493 363h1v1h-1zM496 363h1v1h-1zM499 363h1v1h-1zM502 363h1v1h-1zM505 363h1v1h-1zM508 363h1v1h-1zM511 363h1v1h-1zM514 363h1v1h-1zM517 363h1v1h-1zM520 363h1v1h-1zM523 363h1v1h-1zM526 363h1v1h-1zM529 363h1v1h-1zM532 363h1v1h-1zM535 363h1v1h-1zM538 363h1v1h-1zM541 363h1v1h-1zM544 363h1v1h-1zM547 363h1v1h-1zM550 363h1v1h-1zM553 363h1v1h-1zM556 363h1v1h-1zM559 363h1v1h-1zM562 363h1v1h-1zM565 363h1v1h-1zM568 363h1v1h-1zM571 363h1v1h-1zM574 363h1v1h-1zM577 363h1v1h-1zM580 363h1v1h-1zM583 363h1v1h-1zM586 363h1v1h-1zM589 363h1v1h-1zM592 363h1v1h-1zM595 363h1v1h-1zM598 363h1v1h-1zM601 363h1v1h-1zM604 363h1v1h-1zM607 363h1v1h-1zM610 363h1v1h-1zM613 363h1v1h-1zM616 363h1v1h-1zM619 363h1v1h-1zM622 363h1v1h-1zM625 363h1v1h-1zM628 363h1v1h-1zM631 363h1v1h-1zM634 363h1v1h-1zM637 363h1v1h-1zM640 363h1v1h-1zM643 363h1v1h-1zM646 363h1v1h-1zM649 363h1v1h-1zM652 363h1v1h-1zM655 363h1v1h-1zM658 363h1v1h-1zM661 363h1v1h-1zM664 363h1v1h-1zM667 363h1v1h-1zM670 363h1v1h-1zM673 363h1v1h-1zM676 363h1v1h-1zM679 363h1v1h-1zM682 363h1v1h-1zM685 363h1v1h-1zM688 363h1v1h-1zM691 363h1v1h-1zM694 363h1v1h-1zM697 363h1v1h-1zM700 363h1v1h-1zM703 363h1v1h-1zM706 363h1v1h-1zM709 363h1v1h-1zM712 363h1v1h-1zM715 363h1v1h-1zM718 363h1v1h-1zM721 363h1v1h-1zM724 363h1v1h-1zM727 363h1v1h-1zM730 363h1v1h-1zM733 363h1v1h-1zM736 363h1v1h-1zM739 363h1v1h-1zM742 363h1v1h-1zM745 363h1v1h-1zM748 363h1v1h-1zM751 363h1v1h-1zM754 363h1v1h-1zM757 363h1v1h-1zM760 363h1v1h-1zM763 363h1v1h-1zM766 363h1v1h-1zM769 363h1v1h-1zM772 363h1v1h-1zM775 363h1v1h-1zM778 363h1v1h-1zM781 363h1v1h-1zM784 363h1v1h-1zM787 363h1v1h-1zM790 363h1v1h-1zM793 363h1v1h-1zM796 363h1v1h-1zM799 363h1v1h-1zM802 363h1v1h-1zM805 363h1v1h-1zM808 363h1v1h-1zM811 363h1v1h-1zM814 363h1v1h-1zM817 363h1v1h-1zM820 363h1v1h-1zM823 363h1v1h-1zM826 363h1v1h-1zM829 363h1v1h-1zM832 363h1v1h-1zM835 363h1v1h-1zM838 363h1v1h-1zM841 363h1v1h-1zM844 363h1v1h-1zM847 363h1v1h-1zM850 363h1v1h-1zM853 363h1v1h-1zM856 363h1v1h-1zM859 363h1v1h-1zM862 363h1v1h-1zM865 363h1v1h-1zM868 363h1v1h-1zM871 363h1v1h-1zM874 363h1v1h-1zM877 363h1v1h-1zM880 363h1v1h-1zM883 363h1v1h-1zM886 363h1v1h-1zM889 363h1v1h-1zM892 363h1v1h-1zM895 363h1v1h-1zM898 363h1v1h-1zM901 363h1v1h-1zM904 363h1v1h-1zM907 363h1v1h-1zM910 363h1v1h-1zM913 363h1v1h-1zM916 363h1v1h-1zM919 363h1v1h-1zM922 363h1v1h-1zM925 363h1v1h-1zM928 363h1v1h-1zM931 363h1v1h-1zM934 363h1v1h-1zM937 363h1v1h-1zM940 363h1v1h-1zM943 363h1v1h-1zM946 363h1v1h-1zM949 363h1v1h-1zM952 363h1v1h-1zM955 363h1v1h-1zM958 363h1v1h-1zM961 363h1v1h-1zM964 363h1v1h-1zM967 363h1v1h-1zM970 363h1v1h-1zM973 363h1v1h-1zM976 363h1v1h-1zM979 363h1v1h-1zM982 363h1v1h-1zM985 363h1v1h-1zM988 363h1v1h-1zM991 363h1v1h-1zM994 363h1v1h-1zM997 363h1v1h-1zM1000 363h1v1h-1zM1003 363h1v1h-1zM1006 363h1v1h-1zM1009 363h1v1h-1zM1012 363h1v1h-1zM1015 363h1v1h-1zM1018 363h1v1h-1zM1021 363h1v1h-1zM1024 363h1v1h-1zM1027 363h1v1h-1zM1030 363h1v1h-1zM1033 363h1v1h-1zM1036 363h1v1h-1zM1039 363h1v1h-1zM1042 363h1v1h-1zM1045 363h1v1h-1zM1048 363h1v1h-1zM1051 363h1v1h-1zM1054 363h1v1h-1zM1057 363h1v1h-1zM1060 363h1v1h-1zM1063 363h1v1h-1zM1066 363h1v1h-1zM1069 363h1v1h-1zM1072 363h1v1h-1zM1075 363h1v1h-1zM1078 363h1v1h-1zM1081 363h1v1h-1zM1084 363h1v1h-1zM1087 363h1v1h-1zM1090 363h1v1h-1zM1093 363h1v1h-1zM1096 363h1v1h-1zM1099 363h1v1h-1zM1102 363h1v1h-1zM1105 363h1v1h-1zM1108 363h1v1h-1zM1111 363h1v1h-1zM1114 363h1v1h-1zM1117 363h1v1h-1zM1120 363h1v1h-1zM1123 363h1v1h-1zM1126 363h1v1h-1zM1129 363h1v1h-1zM1132 363h1v1h-1zM1135 363h1v1h-1zM1138 363h1v1h-1zM1141 363h1v1h-1zM1144 363h1v1h-1zM1147 363h1v1h-1zM1150 363h1v1h-1zM1153 363h1v1h-1zM1156 363h1v1h-1zM1159 363h1v1h-1zM1162 363h1v1h-1zM1165 363h1v1h-1zM1168 363h1v1h-1zM1171 363h1v1h-1zM1174 363h1v1h-1zM1177 363h1v1h-1zM1180 363h1v1h-1zM1183 363h1v1h-1zM1186 363h1v1h-1zM1189 363h1v1h-1zM1192 363h1v1h-1zM1195 363h1v1h-1zM1198 363h1v1h-1zM1201 363h1v1h-1zM1204 363h1v1h-1zM1207 363h1v1h-1zM1210 363h1v1h-1zM1213 363h1v1h-1zM1216 363h1v1h-1zM1219 363h1v1h-1zM1222 363h1v1h-1zM1225 363h1v1h-1zM1228 363h1v1h-1zM1231 363h1v1h-1zM1234 363h1v1h-1zM1237 363h1v1h-1zM1240 363h1v1h-1zM1243 363h1v1h-1zM1246 363h1v1h-1zM1249 363h1v1h-1zM1252 363h1v1h-1zM1255 363h1v1h-1zM1258 363h1v1h-1zM1261 363h1v1h-1zM1264 363h1v1h-1zM1267 363h1v1h-1zM1270 363h1v1h-1zM1273 363h1v1h-1zM1276 363h1v1h-1zM1279 363h1v1h-1zM1282 363h1v1h-1zM1285 363h1v1h-1zM1288 363h1v1h-1zM1291 363h1v1h-1zM1294 363h1v1h-1zM1297 363h1v1h-1zM1300 363h1v1h-1zM1303 363h1v1h-1zM1306 363h1v1h-1zM1309 363h1v1h-1zM1312 363h1v1h-1zM1315 363h1v1h-1zM1318 363h1v1h-1zM1321 363h1v1h-1zM1324 363h1v1h-1zM1327 363h1v1h-1zM1330 363h1v1h-1zM1333 363h1v1h-1zM1336 363h1v1h-1zM1339 363h1v1h-1zM1342 363h1v1h-1zM1345 363h1v1h-1zM1348 363h1v1h-1zM1351 363h1v1h-1zM1354 363h1v1h-1zM1357 363h1v1h-1zM1360 363h1v1h-1zM1363 363h1v1h-1zM1366 363h1v1h-1zM1369 363h1v1h-1zM1372 363h1v1h-1zM1375 363h1v1h-1zM1378 363h1v1h-1zM1381 363h1v1h-1zM1384 363h1v1h-1zM1387 363h1v1h-1zM1390 363h1v1h-1zM1393 363h1v1h-1zM1396 363h1v1h-1zM1399 363h1v1h-1zM1402 363h1v1h-1zM1405 363h1v1h-1zM1408 363h1v1h-1zM1411 363h1v1h-1zM1414 363h1v1h-1zM1417 363h1v1h-1zM1420 363h1v1h-1zM1423 363h1v1h-1zM1426 363h1v1h-1zM1429 363h1v1h-1zM1432 363h1v1h-1zM1435 363h1v1h-1zM1438 363h1v1h-1zM1441 363h1v1h-1zM1444 363h1v1h-1zM1447 363h1v1h-1zM1450 363h1v1h-1zM1453 363h1v1h-1zM1456 363h1v1h-1zM1459 363h1v1h-1zM1462 363h1v1h-1zM1465 363h1v1h-1zM1468 363h1v1h-1zM1471 363h1v1h-1zM1474 363h1v1h-1zM1477 363h1v1h-1zM1480 363h1v1h-1zM1483 363h1v1h-1zM1486 363h1v1h-1zM1489 363h1v1h-1zM1492 363h1v1h-1zM1495 363h1v1h-1zM1498 363h1v1h-1zM1501 363h1v1h-1zM1504 363h1v1h-1zM1507 363h1v1h-1zM1510 363h1v1h-1zM1513 363h1v1h-1zM1516 363h1v1h-1zM1519 363h1v1h-1zM1522 363h1v1h-1zM1525 363h1v1h-1zM1528 363h1v1h-1zM1531 363h1v1h-1zM1534 363h1v1h-1zM1537 363h1v1h-1zM1540 363h1v1h-1zM1543 363h1v1h-1zM1546 363h1v1h-1zM1549 363h1v1h-1zM1552 363h1v1h-1zM1555 363h1v1h-1zM1558 363h1v1h-1zM1561 363h1v1h-1zM1564 363h1v1h-1zM1567 363h1v1h-1zM1570 363h1v1h-1zM1573 363h1v1h-1zM1576 363h1v1h-1zM1579 363h1v1h-1zM1582 363h1v1h-1zM1585 363h1v1h-1zM1588 363h1v1h-1zM1591 363h1v1h-1zM1594 363h1v1h-1zM1597 363h1v1h-1zM1600 363h1v1h-1zM1603 363h1v1h-1zM1606 363h1v1h-1zM1609 363h1v1h-1zM1612 363h1v1h-1zM1615 363h1v1h-1zM1618 363h1v1h-1zM1621 363h1v1h-1zM1624 363h1v1h-1zM1627 363h1v1h-1zM1630 363h1v1h-1zM1633 363h1v1h-1zM1636 363h1v1h-1zM1639 363h1v1h-1zM1642 363h1v1h-1zM1645 363h1v1h-1zM1648 363h1v1h-1zM1651 363h1v1h-1zM1654 363h1v1h-1zM1657 363h1v1h-1zM1660 363h1v1h-1zM1663 363h1v1h-1zM1666 363h1v1h-1zM1669 363h1v1h-1zM1672 363h1v1h-1zM1675 363h1v1h-1zM1678 363h1v1h-1zM1681 363h1v1h-1zM1684 363h1v1h-1zM1687 363h1v1h-1zM1690 363h1v1h-1zM1693 363h1v1h-1zM1696 363h1v1h-1zM1699 363h1v1h-1zM1702 363h1v1h-1zM1705 363h1v1h-1zM1708 363h1v1h-1zM1711 363h1v1h-1zM1714 363h1v1h-1zM1717 363h1v1h-1zM1720 363h1v1h-1zM1723 363h1v1h-1zM1726 363h1v1h-1zM1729 363h1v1h-1zM1732 363h1v1h-1zM1735 363h1v1h-1zM1738 363h1v1h-1zM1741 363h1v1h-1zM1744 363h1v1h-1zM1747 363h1v1h-1zM1750 363h1v1h-1zM1753 363h1v1h-1zM1756 363h1v1h-1zM1759 363h1v1h-1zM1762 363h1v1h-1zM1765 363h1v1h-1zM1768 363h1v1h-1zM1771 363h1v1h-1zM1774 363h1v1h-1zM1777 363h1v1h-1zM1780 363h1v1h-1zM1783 363h1v1h-1zM1786 363h1v1h-1zM1789 363h1v1h-1zM1792 363h1v1h-1zM1795 363h1v1h-1zM1798 363h1v1h-1zM1801 363h1v1h-1zM1804 363h1v1h-1zM1807 363h1v1h-1zM1810 363h1v1h-1zM1813 363h1v1h-1zM1816 363h1v1h-1zM1819 363h1v1h-1zM1822 363h1v1h-1zM1825 363h1v1h-1zM1828 363h1v1h-1zM1831 363h1v1h-1zM1834 363h1v1h-1zM1837 363h1v1h-1zM1840 363h1v1h-1zM1843 363h1v1h-1zM1846 363h1v1h-1zM1849 363h1v1h-1zM1852 363h1v1h-1zM1855 363h1v1h-1zM1858 363h1v1h-1zM1861 363h1v1h-1zM1864 363h1v1h-1zM1867 363h1v1h-1zM1870 363h1v1h-1zM1873 363h1v1h-1zM1876 363h1v1h-1zM1879 363h1v1h-1zM1882 363h1v1h-1zM1885 363h1v1h-1zM1888 363h1v1h-1zM1891 363h1v1h-1zM1894 363h1v1h-1zM1897 363h1v1h-1zM1900 363h1v1h-1zM1903 363h1v1h-1zM1906 363h1v1h-1zM1909 363h1v1h-1zM1912 363h1v1h-1zM1915 363h1v1h-1zM1918 363h1v1h-1zM1921 363h1v1h-1zM1924 363h1v1h-1zM1927 363h1v1h-1zM1930 363h1v1h-1zM1933 363h1v1h-1zM1936 363h1v1h-1zM1939 363h1v1h-1zM1942 363h1v1h-1zM1945 363h1v1h-1zM1948 363h1v1h-1zM1951 363h1v1h-1zM1954 363h1v1h-1zM1957 363h1v1h-1zM1960 363h1v1h-1zM1963 363h1v1h-1zM1966 363h1v1h-1zM1969 363h1v1h-1zM1972 363h1v1h-1zM1975 363h1v1h-1zM1978 363h1v1h-1zM1981 363h1v1h-1zM1984 363h1v1h-1zM1987 363h1v1h-1zM1990 363h1v1h-1zM1993 363h1v1h-1zM1996 363h1v1h-1zM1999 363h1v1h-1zM2002 363h1v1h-1zM2005 363h1v1h-1zM2008 363h1v1h-1zM2011 363h1v1h-1zM2014 363h1v1h-1zM2017 363h1v1h-1zM2020 363h1v1h-1zM2023 363h1v1h-1zM2026 363h1v1h-1zM2029 363h1v1h-1zM2032 363h1v1h-1zM2035 363h1v1h-1zM2038 363h1v1h-1zM2041 363h1v1h-1zM2044 363h1v1h-1zM2047 363h1v1h-1zM2050 363h1v1h-1zM2053 363h1v1h-1zM2056 363h1v1h-1zM2059 363h1v1h-1zM2062 363h1v1h-1zM2065 363h1v1h-1zM2068 363h1v1h-1zM2071 363h1v1h-1zM2074 363h1v1h-1zM2077 363h1v1h-1zM2080 363h1v1h-1zM2083 363h1v1h-1zM2086 363h1v1h-1zM2089 363h1v1h-1zM2092 363h1v1h-1zM2095 363h1v1h-1zM2098 363h1v1h-1zM2101 363h1v1h-1zM2104 363h1v1h-1zM2107 363h1v1h-1zM2110 363h1v1h-1zM2113 363h1v1h-1zM2116 363h1v1h-1zM2119 363h1v1h-1zM2122 363h1v1h-1zM2125 363h1v1h-1zM2128 363h1v1h-1zM2131 363h1v1h-1zM2134 363h1v1h-1zM2137 363h1v1h-1zM2140 363h1v1h-1zM2143 363h1v1h-1zM2146 363h1v1h-1zM2149 363h1v1h-1zM2152 363h1v1h-1zM2155 363h1v1h-1zM2158 363h1v1h-1zM2161 363h1v1h-1zM2164 363h1v1h-1zM2167 363h1v1h-1zM2170 363h1v1h-1zM2173 363h1v1h-1zM2176 363h1v1h-1zM2179 363h1v1h-1zM2182 363h1v1h-1zM2185 363h1v1h-1zM2188 363h1v1h-1zM2191 363h1v1h-1zM2194 363h1v1h-1zM2197 363h1v1h-1zM2200 363h1v1h-1zM2203 363h1v1h-1z"/>
<path fill="#089981" d="M2209 363h1v1h-1zM2211 363h3v1h-3zM2215 363h1v1h-1zM2217 363h3v1h-3zM2221 363h4v1h-4zM2227 363h4v1h-4zM2233 363h1v1h-1zM2236 363h1v1h-1z"/>
</svg>
<div class="topb"></div>
<span class="t n" style="left:2247.50px;top:10.00px;font-size:12px;line-height:14px;color:#10131a;-webkit-text-stroke:0.2px #10131a;transform:scaleX(1.0076);">6<i>,</i>980<i>.</i>00</span><span class="t n" style="left:2247.50px;top:50.00px;font-size:12px;line-height:14px;color:#10131a;-webkit-text-stroke:0.2px #10131a;transform:scaleX(1.0076);">6<i>,</i>976<i>.</i>00</span><span class="t n" style="left:2247.50px;top:89.00px;font-size:12px;line-height:14px;color:#10131a;-webkit-text-stroke:0.2px #10131a;transform:scaleX(1.0076);">6<i>,</i>972<i>.</i>00</span><span class="t n" style="left:2247.50px;top:128.00px;font-size:12px;line-height:14px;color:#10131a;-webkit-text-stroke:0.2px #10131a;transform:scaleX(1.0076);">6<i>,</i>968<i>.</i>00</span><span class="t n" style="left:2247.50px;top:167.00px;font-size:12px;line-height:14px;color:#10131a;-webkit-text-stroke:0.2px #10131a;transform:scaleX(1.0076);">6<i>,</i>964<i>.</i>00</span><span class="t n" style="left:2247.50px;top:207.00px;font-size:12px;line-height:14px;color:#10131a;-webkit-text-stroke:0.2px #10131a;transform:scaleX(1.0076);">6<i>,</i>960<i>.</i>00</span><span class="t n" style="left:2247.50px;top:246.00px;font-size:12px;line-height:14px;color:#10131a;-webkit-text-stroke:0.2px #10131a;transform:scaleX(1.0076);">6<i>,</i>956<i>.</i>00</span><span class="t n" style="left:2247.50px;top:285.00px;font-size:12px;line-height:14px;color:#10131a;-webkit-text-stroke:0.2px #10131a;transform:scaleX(1.0076);">6<i>,</i>952<i>.</i>00</span><span class="t n" style="left:2247.50px;top:324.00px;font-size:12px;line-height:14px;color:#10131a;-webkit-text-stroke:0.2px #10131a;transform:scaleX(1.0076);">6<i>,</i>948<i>.</i>00</span><span class="t n" style="left:2247.50px;top:364.00px;font-size:12px;line-height:14px;color:#10131a;-webkit-text-stroke:0.2px #10131a;transform:scaleX(1.0076);">6<i>,</i>944<i>.</i>00</span><span class="t n" style="left:2247.50px;top:403.00px;font-size:12px;line-height:14px;color:#10131a;-webkit-text-stroke:0.2px #10131a;transform:scaleX(1.0076);">6<i>,</i>940<i>.</i>00</span><span class="t n" style="left:2247.50px;top:442.00px;font-size:12px;line-height:14px;color:#10131a;-webkit-text-stroke:0.2px #10131a;transform:scaleX(1.0076);">6<i>,</i>936<i>.</i>00</span><span class="t n" style="left:2247.50px;top:481.00px;font-size:12px;line-height:14px;color:#10131a;-webkit-text-stroke:0.2px #10131a;transform:scaleX(1.0076);">6<i>,</i>932<i>.</i>00</span><span class="t n" style="left:2247.50px;top:521.00px;font-size:12px;line-height:14px;color:#10131a;-webkit-text-stroke:0.2px #10131a;transform:scaleX(1.0076);">6<i>,</i>928<i>.</i>00</span><span class="t n" style="left:2247.50px;top:560.00px;font-size:12px;line-height:14px;color:#10131a;-webkit-text-stroke:0.2px #10131a;transform:scaleX(1.0076);">6<i>,</i>924<i>.</i>00</span><span class="t n" style="left:2247.50px;top:599.00px;font-size:12px;line-height:14px;color:#10131a;-webkit-text-stroke:0.2px #10131a;transform:scaleX(1.0076);">6<i>,</i>920<i>.</i>00</span><span class="t n" style="left:2247.50px;top:639.00px;font-size:12px;line-height:14px;color:#10131a;-webkit-text-stroke:0.2px #10131a;transform:scaleX(1.0076);">6<i>,</i>916<i>.</i>00</span><span class="t n" style="left:2247.50px;top:678.00px;font-size:12px;line-height:14px;color:#10131a;-webkit-text-stroke:0.2px #10131a;transform:scaleX(1.0076);">6<i>,</i>912<i>.</i>00</span><span class="t n" style="left:2247.50px;top:717.00px;font-size:12px;line-height:14px;color:#10131a;-webkit-text-stroke:0.2px #10131a;transform:scaleX(1.0076);">6<i>,</i>908<i>.</i>00</span><span class="t n" style="left:2247.50px;top:756.00px;font-size:12px;line-height:14px;color:#10131a;-webkit-text-stroke:0.2px #10131a;transform:scaleX(1.0076);">6<i>,</i>904<i>.</i>00</span><span class="t n" style="left:2247.50px;top:796.00px;font-size:12px;line-height:14px;color:#10131a;-webkit-text-stroke:0.2px #10131a;transform:scaleX(1.0076);">6<i>,</i>900<i>.</i>00</span><span class="t n" style="left:2247.50px;top:835.00px;font-size:12px;line-height:14px;color:#10131a;-webkit-text-stroke:0.2px #10131a;transform:scaleX(1.0076);">6<i>,</i>896<i>.</i>00</span><span class="t n" style="left:2247.50px;top:874.00px;font-size:12px;line-height:14px;color:#10131a;-webkit-text-stroke:0.2px #10131a;transform:scaleX(1.0076);">6<i>,</i>892<i>.</i>00</span><span class="t n" style="left:2247.50px;top:913.00px;font-size:12px;line-height:14px;color:#10131a;-webkit-text-stroke:0.2px #10131a;transform:scaleX(1.0076);">6<i>,</i>888<i>.</i>00</span><span class="t n" style="left:2247.50px;top:953.00px;font-size:12px;line-height:14px;color:#10131a;-webkit-text-stroke:0.2px #10131a;transform:scaleX(1.0076);">6<i>,</i>884<i>.</i>00</span><span class="t n" style="left:2247.50px;top:992.00px;font-size:12px;line-height:14px;color:#10131a;-webkit-text-stroke:0.2px #10131a;transform:scaleX(1.0076);">6<i>,</i>880<i>.</i>00</span><span class="t n" style="left:2247.50px;top:1031.00px;font-size:12px;line-height:14px;color:#10131a;-webkit-text-stroke:0.2px #10131a;transform:scaleX(1.0076);">6<i>,</i>876<i>.</i>00</span><span class="t n" style="left:2247.50px;top:1071.00px;font-size:12px;line-height:14px;color:#10131a;-webkit-text-stroke:0.2px #10131a;transform:scaleX(1.0076);">6<i>,</i>872<i>.</i>00</span><span class="t n" style="left:2247.50px;top:1110.00px;font-size:12px;line-height:14px;color:#10131a;-webkit-text-stroke:0.2px #10131a;transform:scaleX(1.0076);">6<i>,</i>868<i>.</i>00</span><span class="t n" style="left:45.25px;top:1135.00px;font-size:12px;line-height:14px;color:#10131a;-webkit-text-stroke:0.2px #10131a;">22<i>:</i>30</span><span class="t n" style="left:128.25px;top:1135.00px;font-size:12px;line-height:14px;color:#10131a;-webkit-text-stroke:0.2px #10131a;">22<i>:</i>45</span><span class="t n" style="left:210.25px;top:1135.00px;font-size:12px;line-height:14px;color:#10131a;-webkit-text-stroke:0.2px #10131a;">23<i>:</i>00</span><span class="t n" style="left:293.25px;top:1135.00px;font-size:12px;line-height:14px;color:#10131a;-webkit-text-stroke:0.2px #10131a;">23<i>:</i>15</span><span class="t n" style="left:375.25px;top:1135.00px;font-size:12px;line-height:14px;color:#10131a;-webkit-text-stroke:0.2px #10131a;">23<i>:</i>30</span><span class="t n" style="left:458.25px;top:1135.00px;font-size:12px;line-height:14px;color:#10131a;-webkit-text-stroke:0.2px #10131a;">23<i>:</i>45</span><span class="t" style="left:551.36px;top:1135.00px;font-size:12px;line-height:14px;color:#10131a;font-weight:bold;transform:scaleX(1.1828);">7</span><span class="t n" style="left:623.37px;top:1135.00px;font-size:12px;line-height:14px;color:#10131a;-webkit-text-stroke:0.2px #10131a;transform:scaleX(0.9972);">00<i>:</i>15</span><span class="t n" style="left:706.37px;top:1135.00px;font-size:12px;line-height:14px;color:#10131a;-webkit-text-stroke:0.2px #10131a;transform:scaleX(0.9972);">00<i>:</i>30</span><span class="t n" style="left:788.37px;top:1135.00px;font-size:12px;line-height:14px;color:#10131a;-webkit-text-stroke:0.2px #10131a;transform:scaleX(0.9972);">00<i>:</i>45</span><span class="t n" style="left:871.37px;top:1135.00px;font-size:12px;line-height:14px;color:#10131a;-webkit-text-stroke:0.2px #10131a;transform:scaleX(0.9972);">01<i>:</i>00</span><span class="t n" style="left:953.37px;top:1135.00px;font-size:12px;line-height:14px;color:#10131a;-webkit-text-stroke:0.2px #10131a;transform:scaleX(0.9972);">01<i>:</i>15</span><span class="t n" style="left:1036.37px;top:1135.00px;font-size:12px;line-height:14px;color:#10131a;-webkit-text-stroke:0.2px #10131a;transform:scaleX(0.9972);">01<i>:</i>30</span><span class="t n" style="left:1118.37px;top:1135.00px;font-size:12px;line-height:14px;color:#10131a;-webkit-text-stroke:0.2px #10131a;transform:scaleX(0.9972);">01<i>:</i>45</span><span class="t n" style="left:1201.37px;top:1135.00px;font-size:12px;line-height:14px;color:#10131a;-webkit-text-stroke:0.2px #10131a;transform:scaleX(0.9972);">02<i>:</i>00</span><span class="t n" style="left:1284.37px;top:1135.00px;font-size:12px;line-height:14px;color:#10131a;-webkit-text-stroke:0.2px #10131a;transform:scaleX(0.9972);">02<i>:</i>15</span><span class="t n" style="left:1366.37px;top:1135.00px;font-size:12px;line-height:14px;color:#10131a;-webkit-text-stroke:0.2px #10131a;transform:scaleX(0.9972);">02<i>:</i>30</span><span class="t n" style="left:1449.37px;top:1135.00px;font-size:12px;line-height:14px;color:#10131a;-webkit-text-stroke:0.2px #10131a;transform:scaleX(0.9972);">02<i>:</i>45</span><span class="t n" style="left:1531.37px;top:1135.00px;font-size:12px;line-height:14px;color:#10131a;-webkit-text-stroke:0.2px #10131a;transform:scaleX(0.9972);">03<i>:</i>00</span><span class="t n" style="left:1614.37px;top:1135.00px;font-size:12px;line-height:14px;color:#10131a;-webkit-text-stroke:0.2px #10131a;transform:scaleX(0.9972);">03<i>:</i>15</span><span class="t n" style="left:1696.37px;top:1135.00px;font-size:12px;line-height:14px;color:#10131a;-webkit-text-stroke:0.2px #10131a;transform:scaleX(0.9972);">03<i>:</i>30</span><span class="t n" style="left:1779.37px;top:1135.00px;font-size:12px;line-height:14px;color:#10131a;-webkit-text-stroke:0.2px #10131a;transform:scaleX(0.9972);">03<i>:</i>45</span><span class="t n" style="left:1862.37px;top:1135.00px;font-size:12px;line-height:14px;color:#10131a;-webkit-text-stroke:0.2px #10131a;transform:scaleX(0.9972);">04<i>:</i>00</span><span class="t n" style="left:1944.37px;top:1135.00px;font-size:12px;line-height:14px;color:#10131a;-webkit-text-stroke:0.2px #10131a;transform:scaleX(0.9972);">04<i>:</i>15</span><span class="t n" style="left:2027.37px;top:1135.00px;font-size:12px;line-height:14px;color:#10131a;-webkit-text-stroke:0.2px #10131a;transform:scaleX(0.9972);">04<i>:</i>30</span><span class="t n" style="left:2109.37px;top:1135.00px;font-size:12px;line-height:14px;color:#10131a;-webkit-text-stroke:0.2px #10131a;transform:scaleX(0.9972);">04<i>:</i>45</span><span class="t n" style="left:2192.37px;top:1135.00px;font-size:12px;line-height:14px;color:#10131a;-webkit-text-stroke:0.2px #10131a;transform:scaleX(0.9972);">05<i>:</i>00</span><span class="t" style="left:28.67px;top:9.00px;font-size:16px;line-height:17px;color:#10131a;-webkit-text-stroke:0.3px #10131a;transform:scaleX(0.8793);">S&amp;P</span><span class="t" style="left:61.91px;top:9.00px;font-size:16px;line-height:17px;color:#10131a;-webkit-text-stroke:0.3px #10131a;transform:scaleX(0.9267);">500</span><span class="t" style="left:91.26px;top:9.00px;font-size:16px;line-height:17px;color:#10131a;-webkit-text-stroke:0.3px #10131a;transform:scaleX(0.9968);">Index</span><span class="t" style="left:133.65px;top:7.98px;font-size:17.86px;line-height:20px;color:#10131a;font-weight:bold;">·</span><span class="t" style="left:143.02px;top:9.00px;font-size:16px;line-height:17px;color:#10131a;-webkit-text-stroke:0.3px #10131a;transform:scaleX(0.6541);">1</span><span class="t" style="left:154.25px;top:7.98px;font-size:17.86px;line-height:20px;color:#10131a;font-weight:bold;">·</span><span class="t" style="left:162.71px;top:9.00px;font-size:16px;line-height:17px;color:#10131a;-webkit-text-stroke:0.3px #10131a;transform:scaleX(0.8175);">SPCFD</span><span class="t" style="left:262.37px;top:10.00px;font-size:13px;line-height:15px;color:#10131a;-webkit-text-stroke:0.2px #10131a;transform:scaleX(0.8984);">O</span><span class="t n" style="left:272.45px;top:10.00px;font-size:13px;line-height:15px;color:#089981;-webkit-text-stroke:0.2px #089981;transform:scaleX(1.0039);">6<i>,</i>944<i>.</i>83</span><span class="t" style="left:328.76px;top:10.00px;font-size:13px;line-height:15px;color:#10131a;-webkit-text-stroke:0.2px #10131a;transform:scaleX(1.0027);">H</span><span class="t n" style="left:338.15px;top:10.00px;font-size:13px;line-height:15px;color:#089981;-webkit-text-stroke:0.2px #089981;transform:scaleX(1.0059);">6<i>,</i>944<i>.</i>83</span><span class="t" style="left:394.72px;top:10.00px;font-size:13px;line-height:15px;color:#10131a;-webkit-text-stroke:0.2px #10131a;transform:scaleX(1.0372);">L</span><span class="t n" style="left:402.55px;top:10.00px;font-size:13px;line-height:15px;color:#089981;-webkit-text-stroke:0.2px #089981;">6<i>,</i>944<i>.</i>83</span><span class="t" style="left:459.08px;top:10.00px;font-size:13px;line-height:15px;color:#10131a;-webkit-text-stroke:0.2px #10131a;transform:scaleX(0.8059);">C</span><span class="t n" style="left:467.75px;top:10.00px;font-size:13px;line-height:15px;color:#089981;-webkit-text-stroke:0.2px #089981;">6<i>,</i>944<i>.</i>83</span><span class="t" style="left:524.45px;top:10.00px;font-size:13px;line-height:15px;color:#089981;-webkit-text-stroke:0.2px #089981;transform:scaleX(0.8406);">+</span><span class="t n" style="left:531.18px;top:10.00px;font-size:13px;line-height:15px;color:#089981;-webkit-text-stroke:0.2px #089981;transform:scaleX(0.9953);">0<i>.</i>03</span><span class="t" style="left:561.02px;top:10.00px;font-size:13px;line-height:15px;color:#089981;-webkit-text-stroke:0.2px #089981;transform:scaleX(0.8708);">(</span><span class="t" style="left:565.25px;top:10.00px;font-size:13px;line-height:15px;color:#089981;-webkit-text-stroke:0.2px #089981;transform:scaleX(0.8406);">+</span><span class="t n" style="left:571.68px;top:10.00px;font-size:13px;line-height:15px;color:#089981;-webkit-text-stroke:0.2px #089981;transform:scaleX(0.9927);">0<i>.</i>00</span><span class="t" style="left:597.48px;top:10.00px;font-size:13px;line-height:15px;color:#089981;-webkit-text-stroke:0.2px #089981;transform:scaleX(0.7036);">%</span><span class="t" style="left:605.67px;top:10.00px;font-size:13px;line-height:15px;color:#089981;-webkit-text-stroke:0.2px #089981;transform:scaleX(1.0059);">)</span><span class="t n" style="left:86.49px;top:44.00px;font-size:10px;line-height:11px;color:#10131a;-webkit-text-stroke:0.2px #10131a;transform:scaleX(1.0207);">0<i>.</i>00</span>
<div class="last"></div><span class="t n" style="left:2247.29px;top:356.00px;font-size:12px;line-height:14px;color:#fff;-webkit-text-stroke:0.3px #fff;transform:scaleX(1.0111);">6<i>,</i>944<i>.</i>83</span>
<div class="ico500"></div>
<span class="t" style="left:8.84px;top:13.10px;font-size:8px;line-height:9px;color:#fff;font-weight:bold;-webkit-text-stroke:0.2px #fff;transform:scaleX(1.0815);">500</span>
<div class="pill"><div class="d"></div><div class="r"></div></div>
<span class="t" style="left:239.26px;top:5.85px;font-size:20px;line-height:22px;color:#e91e63;transform:scaleX(0.8889);">≈</span>
<div class="box sell"></div><div class="box buy"></div>
<span class="t n" style="left:16.85px;top:35.00px;font-size:13px;line-height:15px;color:#f23645;-webkit-text-stroke:0.3px #f23645;">6<i>,</i>944<i>.</i>83</span><span class="t" style="left:30.16px;top:51.00px;font-size:11px;line-height:12px;color:#f23645;-webkit-text-stroke:0.2px #f23645;transform:scaleX(0.8976);">SELL</span><span class="t n" style="left:125.55px;top:35.00px;font-size:13px;line-height:15px;color:#2962ff;-webkit-text-stroke:0.3px #2962ff;transform:scaleX(1.0039);">6<i>,</i>944<i>.</i>83</span><span class="t" style="left:139.97px;top:51.00px;font-size:11px;line-height:12px;color:#2962ff;-webkit-text-stroke:0.2px #2962ff;transform:scaleX(0.9393);">BUY</span>
<svg style="position:absolute;left:0;top:1090px" width="60" height="36" viewBox="0 1090 60 36"><path d="M10 1099H22V1114H16V1105H10ZM33.4 1099H39.8L33.8 1114H27.1Z" fill="#131313"/><circle cx="26.9" cy="1101.9" r="2.9" fill="#131313"/></svg>
<span class="t" style="left:46.69px;top:1095.00px;font-size:21.2px;line-height:23px;color:#131313;font-weight:bold;transform:scaleX(0.9715);">TradingView</span>
<span class="t" style="left:2259.50px;top:1126.80px;font-size:20px;line-height:22px;color:#c8c8c8;">Activate Windows</span><span class="t" style="left:2259.78px;top:1152.20px;font-size:14.5px;line-height:16px;color:#c8c8c8;">Go to Settings to activate Windows.</span>
<div class="cover"></div>
<svg style="position:absolute;left:2210px;top:1098px" width="40" height="36" viewBox="2210 1098 40 36"><circle cx="2229.05" cy="1115.5" r="9.6" fill="none" stroke="#9c27b0" stroke-width="1.3"/><path d="M2233 1110 2225.2 1115.9H2229.3L2226 1121.2 2233.8 1115.2H2229.9Z" fill="#9c27b0"/></svg>
<svg style="position:absolute;left:2250px;top:1124px" width="54" height="32" viewBox="2250 1124 54 32"><path d="M2265.6 1142.4 2268.9 1136.9H2276.1L2279.5 1142.4 2276.1 1147.9H2268.9Z" fill="none" stroke="#131313" stroke-width="1" stroke-linejoin="round"/><circle cx="2272.45" cy="1142.4" r="1.75" fill="none" stroke="#131313" stroke-width="1"/></svg>
</div></body></html>
